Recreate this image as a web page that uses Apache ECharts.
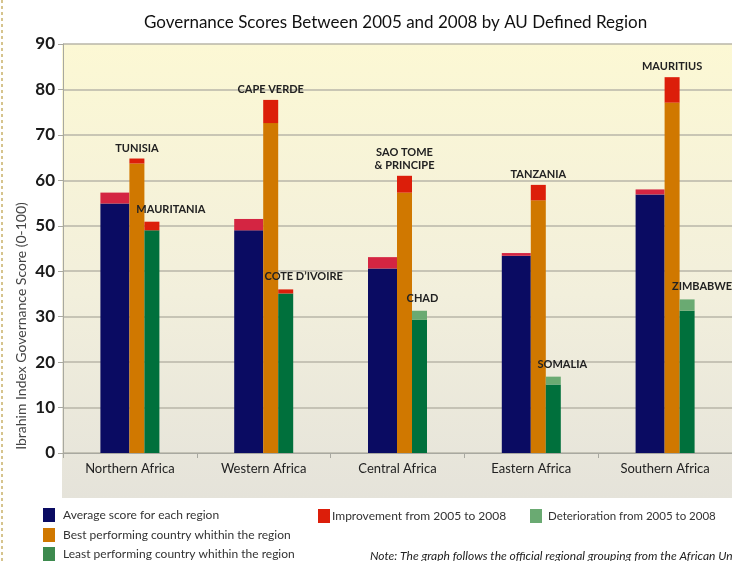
<!DOCTYPE html>
<html>
<head>
<meta charset="utf-8">
<script src="https://cdn.jsdelivr.net/npm/echarts@6/dist/echarts.min.js"></script>
<style>
  html, body { margin: 0; padding: 0; background: #fff; }
  #main { width: 732px; height: 561px; }
</style>
</head>
<body>
<div id="main"></div>
<script>
var regions = ['Northern Africa', 'Western Africa', 'Central Africa', 'Eastern Africa', 'Southern Africa'];
var yTicks = [0, 10, 20, 30, 40, 50, 60, 70, 80, 90];

// 2008 average per region and the gain since 2005
var avgScore = [54.9, 49.0, 40.6, 43.4, 56.9];
var avgGain = [2.4, 2.5, 2.5, 0.6, 1.1];

// best country per region
var bestNames = ['TUNISIA', 'CAPE VERDE', 'SAO TOME\n& PRINCIPE', 'TANZANIA', 'MAURITIUS'];
var bestScore = [63.7, 72.6, 57.3, 55.6, 77.1];
var bestGain = [1.1, 5.1, 3.7, 3.4, 5.6];

// least country per region
var leastNames = ['MAURITANIA', "COTE D\u2019IVOIRE", 'CHAD', 'SOMALIA', 'ZIMBABWE'];
var leastScore = [49.0, 35.1, 29.3, 15.1, 31.3];
var leastGain = [1.9, 0.9, '-', '-', '-'];
var leastLoss = ['-', '-', 2.0, 1.7, 2.5];

var leastShift = [19, 18, 3, 9, 15];

var NAVY = '#0a0b62', ORANGE = '#d07800', GREEN = '#00703c';
var RED = '#dc1e0a', CRIMSON = '#d42542', LIGHTGREEN = '#6aaa72';
var FONT = 'Lato';

var nameLabel = {
  show: true,
  position: 'top',
  distance: 4,
  color: '#222',
  fontFamily: FONT,
  fontWeight: 'bold',
  fontSize: 11,
  lineHeight: 13
};

function leastData(vals) {
  return vals.map(function (v, i) {
    return { value: v, label: { offset: [leastShift[i], -2] } };
  });
}

// one legend box per entry so nothing wraps
function legendItem(name, left, top, color, textPad, size) {
  var item = { name: name };
  if (color) item.itemStyle = { color: color };
  return {
    left: left, top: top,
    itemWidth: 12, itemHeight: 14,
    icon: 'rect',
    textStyle: { fontFamily: FONT, fontSize: size || 12, color: '#333', padding: [0, 0, 0, textPad] },
    data: [item]
  };
}

var chart = echarts.init(document.getElementById('main'));
var option = {
  animation: false,
  backgroundColor: '#fff',
  textStyle: { fontFamily: FONT },
  title: {
    text: 'Governance Scores Between 2005 and 2008 by AU Defined Region',
    left: 139,
    top: 9,
    textStyle: { fontFamily: FONT, fontSize: 17, fontWeight: 'normal', color: '#111' }
  },
  graphic: [
    {
      type: 'rect', z: -10, silent: true,
      shape: { x: 62, y: 44, width: 680, height: 454 },
      style: {
        fill: new echarts.graphic.LinearGradient(0, 0, 0, 1, [
          { offset: 0, color: '#fcf8d4' },
          { offset: 0.55, color: '#f2efdc' },
          { offset: 1, color: '#e5e3da' }
        ])
      }
    },
    {
      type: 'line', silent: true,
      shape: { x1: 2, y1: 0, x2: 2, y2: 561 },
      style: { stroke: '#d6c48e', lineWidth: 2, lineDash: [3, 3] }
    },
    {
      type: 'text', silent: true,
      x: 14, y: 326, rotation: Math.PI / 2,
      style: {
        text: 'Ibrahim Index Governance Score (0-100)',
        fill: '#444', font: '14px Lato', align: 'center', verticalAlign: 'top'
      }
    },
    {
      type: 'text', silent: true,
      x: 370, y: 550,
      style: {
        text: 'Note: The graph follows the official regional grouping from the African Union',
        fill: '#222', font: 'italic 12px Lato'
      }
    }
  ],
  legend: [
    legendItem('Average score for each region', 38, 503, null, 3),
    legendItem('Best performing country whithin the region', 38, 523, null, 3),
    legendItem('Least performing country whithin the region', 38, 542, '#3d8a4e', 3),
    legendItem('Improvement from 2005 to 2008', 313, 504, RED, -3),
    legendItem('Deterioration from 2005 to 2008', 525, 504, LIGHTGREEN, 1, 11.5)
  ],
  grid: { left: 63, top: 44, width: 674, height: 409 },
  xAxis: {
    type: 'category',
    data: regions,
    axisLine: { lineStyle: { color: '#a8a8a0', width: 1 } },
    axisTick: { show: true, length: 5, lineStyle: { color: '#a8a8a0' } },
    axisLabel: { color: '#222', fontFamily: FONT, fontSize: 13, margin: 9 }
  },
  yAxis: {
    type: 'value',
    min: 0, max: 90, interval: 10,
    axisLine: { show: true, lineStyle: { color: '#a8a8a0' } },
    axisTick: { show: true, length: 5, lineStyle: { color: '#a8a8a0' } },
    splitLine: { lineStyle: { color: '#b8b6a8', width: 1.5 } },
    axisLabel: {
      color: '#1a1a1a', fontFamily: FONT, fontSize: 17, fontWeight: 'bold', margin: 8,
      formatter: function (v) { return yTicks.indexOf(v) >= 0 ? String(v) : ''; }
    }
  },
  series: [
    {
      name: 'Average score for each region', type: 'bar', stack: 'avg',
      barWidth: 29, barGap: '0%', data: avgScore,
      itemStyle: { color: NAVY }
    },
    {
      name: 'Improvement from 2005 to 2008', type: 'bar', stack: 'avg',
      barWidth: 29, barGap: '0%', data: avgGain,
      itemStyle: { color: CRIMSON }
    },
    {
      name: 'Best performing country whithin the region', type: 'bar', stack: 'best',
      barWidth: 15, barGap: '0%', data: bestScore,
      itemStyle: { color: ORANGE }
    },
    {
      name: 'Improvement from 2005 to 2008', type: 'bar', stack: 'best',
      barWidth: 15, barGap: '0%', data: bestGain,
      itemStyle: { color: RED },
      label: Object.assign({}, nameLabel, {
        formatter: function (p) { return bestNames[p.dataIndex]; }
      })
    },
    {
      name: 'Least performing country whithin the region', type: 'bar', stack: 'least',
      barWidth: 15, barGap: '0%', data: leastScore,
      itemStyle: { color: GREEN }
    },
    {
      name: 'Improvement from 2005 to 2008', type: 'bar', stack: 'least',
      barWidth: 15, barGap: '0%', data: leastData(leastGain),
      itemStyle: { color: RED },
      label: Object.assign({}, nameLabel, {
        formatter: function (p) { return leastNames[p.dataIndex]; }
      })
    },
    {
      name: 'Deterioration from 2005 to 2008', type: 'bar', stack: 'least',
      barWidth: 15, barGap: '0%', data: leastData(leastLoss),
      itemStyle: { color: LIGHTGREEN },
      label: Object.assign({}, nameLabel, {
        formatter: function (p) { return leastNames[p.dataIndex]; }
      })
    }
  ]
};
chart.setOption(option);
window.addEventListener('resize', function () {
  chart.resize();
});
</script>
</body>
</html>
